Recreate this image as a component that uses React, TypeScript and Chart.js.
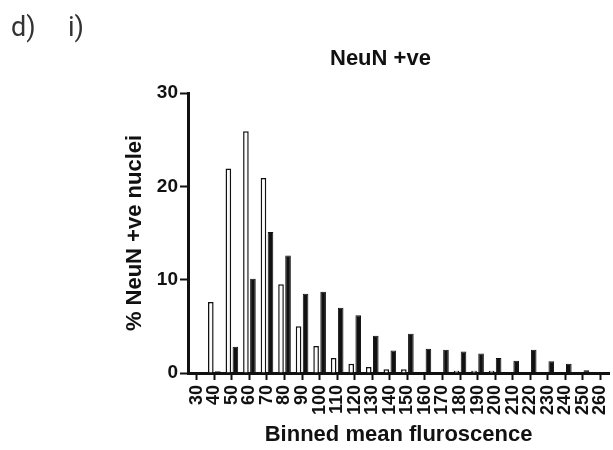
import React, { useEffect, useRef } from "react";
import { Chart, registerables } from "chart.js";

Chart.register(...registerables);

const categories = ["30","40","50","60","70","80","90","100","110","120","130","140","150","160","170","180","190","200","210","220","230","240","250","260"];
const openSeries = [0, 7.6, 21.9, 25.9, 20.9, 9.5, 5.0, 2.9, 1.6, 1.0, 0.65, 0.4, 0.4, 0, 0, 0.25, 0.25, 0.25, 0, 0, 0, 0, 0, 0];
const filledSeries = [0, 0.2, 2.8, 10.1, 15.1, 12.6, 8.5, 8.7, 7.0, 6.2, 4.0, 2.4, 4.2, 2.6, 2.5, 2.3, 2.1, 1.6, 1.3, 2.5, 1.25, 1.0, 0.3, 0];
const yTicks = [0, 10, 20, 30];

const FONT = "'Liberation Sans', Arial, Helvetica, sans-serif";
const INK = "#111111";
const CANVAS_W = 627;

export default function App() {
  const ref = useRef<HTMLCanvasElement | null>(null);

  useEffect(() => {
    if (!ref.current) return;
    const chart = new Chart(ref.current, {
      type: "bar",
      data: {
        labels: categories,
        datasets: [
          {
            label: "open",
            data: openSeries,
            backgroundColor: "#fbfbfb",
            borderColor: INK,
            borderWidth: 1.5,
            categoryPercentage: 0.8,
            barPercentage: 0.8,
          },
          {
            label: "filled",
            data: filledSeries,
            backgroundColor: INK,
            borderColor: INK,
            borderWidth: 1,
            categoryPercentage: 0.8,
            barPercentage: 0.8,
          },
        ],
      },
      options: {
        responsive: false,
        animation: false,
        layout: { padding: { top: 93, left: 118, right: 0, bottom: 0 } },
        plugins: {
          legend: { display: false },
          title: { display: false },
          tooltip: { enabled: false },
        },
        scales: {
          x: {
            offset: true,
            grid: {
              offset: false,
              drawOnChartArea: false,
              drawTicks: true,
              tickLength: 7,
              tickWidth: 2,
              tickColor: INK,
              color: INK,
            },
            border: { display: true, color: INK, width: 3 },
            ticks: {
              autoSkip: false,
              maxRotation: 90,
              minRotation: 90,
              padding: 5,
              color: INK,
              font: { family: FONT, size: 18, weight: "bold" },
            },
            title: {
              display: true,
              text: "Binned mean fluroscence",
              color: INK,
              font: { family: FONT, size: 22, weight: "bold" },
              padding: { top: 0, bottom: 2 },
            },
            afterFit: (scale: any) => {
              scale.height = 77;
            },
          },
          y: {
            min: 0,
            max: 30,
            afterBuildTicks: (scale: any) => {
              scale.ticks = yTicks.map((v) => ({ value: v }));
            },
            grid: {
              drawOnChartArea: false,
              drawTicks: true,
              tickLength: 8,
              tickWidth: 2,
              tickColor: INK,
              color: INK,
            },
            border: { display: true, color: INK, width: 3 },
            ticks: {
              padding: 2,
              color: INK,
              font: { family: FONT, size: 19, weight: "bold" },
            },
            title: {
              display: true,
              text: "% NeuN +ve nuclei",
              color: INK,
              font: { family: FONT, size: 22, weight: "bold" },
              padding: { top: 4, bottom: 0 },
            },
            afterFit: (scale: any) => {
              scale.width = 70;
            },
          },
        },
      },
    });
    return () => chart.destroy();
  }, []);

  const labelStyle: React.CSSProperties = {
    position: "absolute",
    top: 14,
    fontFamily: "Roboto, 'DejaVu Sans', sans-serif",
    fontWeight: 400,
    fontSize: 27,
    lineHeight: "27px",
    color: "#333",
  };

  return (
    <div style={{ position: "fixed", left: 0, top: 0, width: 613, height: 450, overflow: "hidden", background: "#ffffff" }}>
      <canvas ref={ref} width={CANVAS_W} height={450} style={{ position: "absolute", left: 0, top: 0, width: CANVAS_W, height: 450 }} />
      <div style={{ ...labelStyle, left: 11 }}>d)</div>
      <div style={{ ...labelStyle, left: 68 }}>i)</div>
      <div style={{ position: "absolute", left: 330, top: 47, fontFamily: FONT, fontWeight: "bold", fontSize: 22, lineHeight: "22px", color: INK, whiteSpace: "nowrap" }}>NeuN +ve</div>
    </div>
  );
}
